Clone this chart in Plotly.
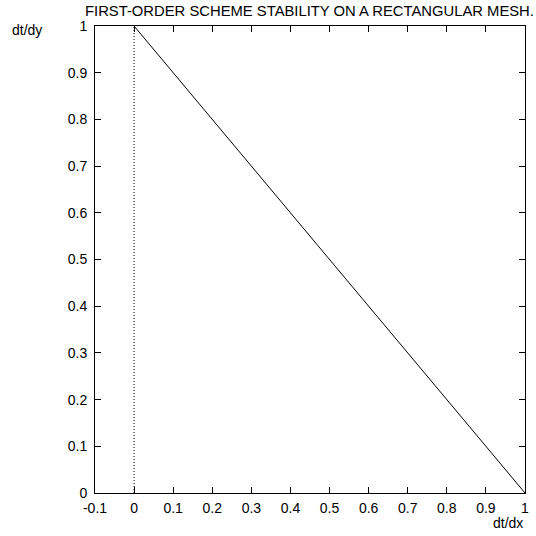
import plotly.graph_objects as go

# Data
x_vals = [0, 1]
y_vals = [1, 0]
x_ticks = [-0.1, 0, 0.1, 0.2, 0.3, 0.4, 0.5, 0.6, 0.7, 0.8, 0.9, 1]
x_tick_labels = ["-0.1", "0", "0.1", "0.2", "0.3", "0.4", "0.5", "0.6", "0.7", "0.8", "0.9", "1"]
y_ticks = [0, 0.1, 0.2, 0.3, 0.4, 0.5, 0.6, 0.7, 0.8, 0.9, 1]
y_tick_labels = ["0", "0.1", "0.2", "0.3", "0.4", "0.5", "0.6", "0.7", "0.8", "0.9", "1"]
title_text = "FIRST-ORDER SCHEME STABILITY ON A RECTANGULAR MESH."

FONT = "Liberation Sans, Arial, sans-serif"
FS = 14

fig = go.Figure()
fig.add_trace(go.Scatter(x=x_vals, y=y_vals, mode="lines",
                         line=dict(color="black", width=1), showlegend=False,
                         hoverinfo="skip"))

# dotted zero axis at x = 0
fig.add_shape(type="line", xref="x", yref="y", x0=0, x1=0, y0=0, y1=1,
              line=dict(color="black", width=1, dash="1px,2px"), layer="below")

axis_common = dict(showgrid=False, zeroline=False, showline=True, linecolor="black",
                   linewidth=1, mirror="ticks", ticks="inside", ticklen=6,
                   tickcolor="black", tickwidth=1,
                   tickfont=dict(family=FONT, size=FS, color="black"))

fig.update_xaxes(range=[-0.1, 1], tickvals=x_ticks, ticktext=x_tick_labels,
                 ticklabelstandoff=2, **axis_common)
fig.update_yaxes(range=[0, 1], tickvals=y_ticks, ticktext=y_tick_labels,
                 ticklabelstandoff=4, **axis_common)

fig.update_layout(
    width=536, height=536,
    margin=dict(l=95, r=7, t=26, b=43),
    paper_bgcolor="white", plot_bgcolor="white",
    font=dict(family=FONT, size=FS, color="black"),
    annotations=[
        dict(text=title_text, xref="paper", yref="paper", x=0.5, y=1,
             xshift=-1, yshift=15, xanchor="center", yanchor="middle", showarrow=False,
             font=dict(family=FONT, size=14.8, color="black")),
        dict(text="dt/dy", xref="paper", yref="paper", x=0, y=1,
             xshift=-68, yshift=-4, xanchor="center", yanchor="middle", showarrow=False,
             font=dict(family=FONT, size=FS, color="black")),
        dict(text="dt/dx", xref="paper", yref="paper", x=1, y=0,
             xshift=0, yshift=-30, xanchor="right", yanchor="middle", showarrow=False,
             font=dict(family=FONT, size=FS, color="black")),
    ],
)

fig.write_html("out.html", config={"displayModeBar": False},
               post_script="document.body.style.margin='0';document.body.style.overflow='hidden';")
